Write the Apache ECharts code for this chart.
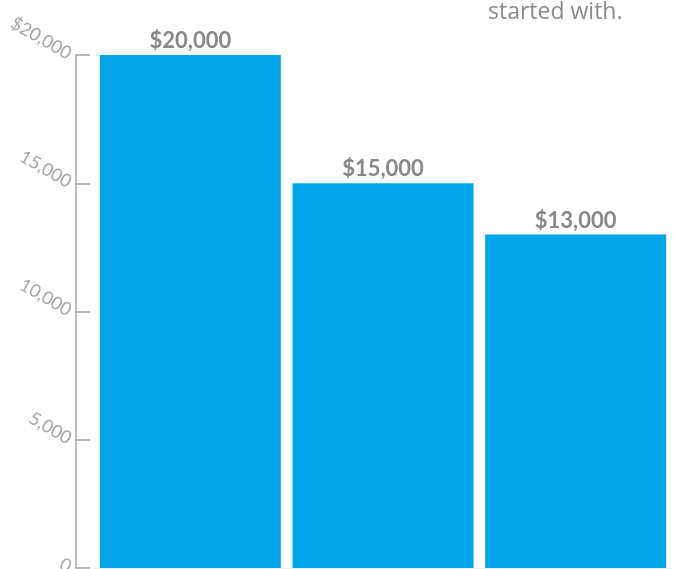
<!DOCTYPE html>
<html>
<head>
<meta charset="utf-8">
<script src="https://cdn.jsdelivr.net/npm/echarts@6/dist/echarts.min.js"></script>
<style>
  html, body { margin: 0; padding: 0; background: #fff; }
  #chart { width: 677px; height: 569px; }
</style>
</head>
<body>
<div id="chart"></div>
<script>
// values
var categories = ['A', 'B', 'C'];
var amounts = [20000, 15000, 13000];
var tickValues = [0, 5000, 10000, 15000, 20000];

var chart = echarts.init(document.getElementById('chart'));

function money(v) {
    return '$' + v.toLocaleString('en-US');
}

chart.setOption({
    animation: false,
    grid: { left: 94, right: 5, top: 55, bottom: 1, containLabel: false, outerBoundsMode: 'none' },
    xAxis: {
        type: 'category',
        data: categories,
        axisLine: { lineStyle: { color: '#eeeeee', width: 1 } },
        axisTick: { show: false },
        axisLabel: { show: false }
    },
    yAxis: {
        type: 'value',
        min: tickValues[0],
        max: tickValues[tickValues.length - 1],
        interval: 5000,
        offset: 18,
        splitLine: { show: false },
        axisLine: { show: true, lineStyle: { color: '#a3a3a3', width: 1.5 } },
        axisTick: { show: true, inside: true, length: 14, lineStyle: { color: '#a3a3a3', width: 1.5 } },
        axisLabel: {
            rotate: -30,
            margin: 6,
            color: '#a6a6a6',
            fontFamily: 'Lato',
            fontSize: 18,
            formatter: function (v) {
                return v === 20000 ? money(v) : v.toLocaleString('en-US');
            }
        }
    },
    graphic: [{
        type: 'text',
        left: 488,
        top: 1,
        style: {
            text: 'started with.',
            fill: '#8a8a8a',
            font: 'normal 23px "Open Sans"'
        }
    }],
    series: [{
        type: 'bar',
        data: amounts,
        barWidth: 181,
        itemStyle: { color: '#00a6e9' },
        label: {
            show: true,
            position: 'top',
            distance: 3,
            color: '#888888',
            fontFamily: 'Lato',
            fontWeight: 'bold',
            fontSize: 22,
            formatter: function (p) { return money(p.value); }
        }
    }]
});
</script>
</body>
</html>
